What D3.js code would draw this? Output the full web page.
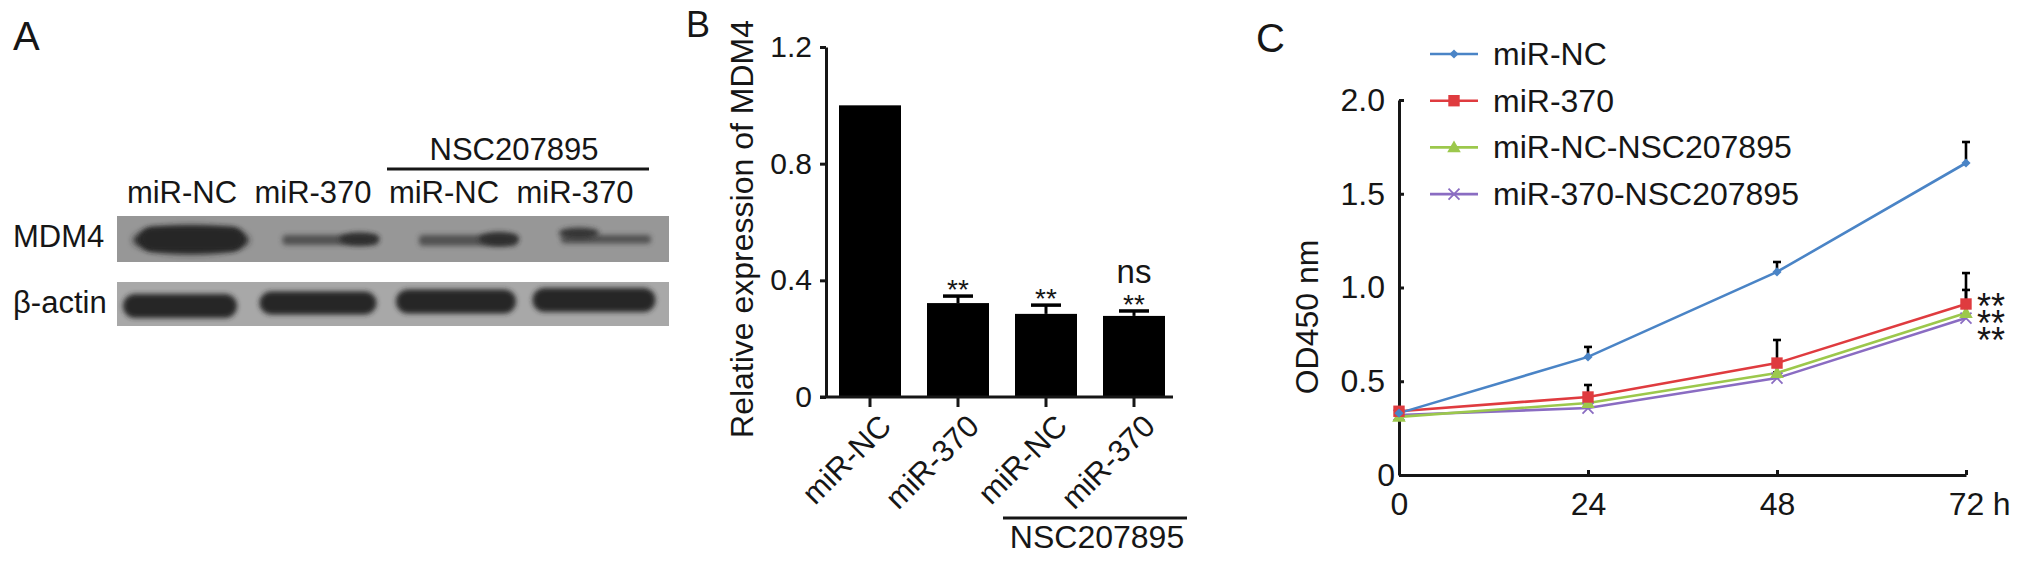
<!DOCTYPE html>
<html><head><meta charset="utf-8">
<script src="https://cdn.jsdelivr.net/npm/d3@7"></script>
<style>
body{margin:0;background:#fff}
svg{display:block}
text{font-family:"Liberation Sans",Arial,Helvetica,sans-serif;fill:#161616}
</style>
</head><body>
<svg id="c" width="2031" height="568"></svg>
<script>
// ---------------- DATA ----------------
// Panel A (western blot)
const laneLabels = ["miR-NC", "miR-370", "miR-NC", "miR-370"];
const blotRowLabels = ["MDM4", "β-actin"];
const mdm4Density = [1.0, 0.35, 0.38, 0.30];
const actinDensity = [1.0, 0.95, 1.0, 1.0];
const treatmentLabel = "NSC207895";

// Panel B (bar chart)
const barCategories = ["miR-NC", "miR-370", "miR-NC", "miR-370"];
const barValues = [1.0, 0.322, 0.285, 0.278];
const barErrors = [0, 0.024, 0.030, 0.017];
const barSig = ["", "**", "**", "**"];
const barSigVsCtrl = ["", "", "", "ns"];
const barYTicks = [0, 0.4, 0.8, 1.2];
const barYTickLabels = ["0", "0.4", "0.8", "1.2"];
const barYLabel = "Relative expression of MDM4";

// Panel C (growth curves)
const timePoints = [0, 24, 48, 72];
const timeTickLabels = ["0", "24", "48", "72"];
const timeUnit = "h";
const odTicks = [0, 0.5, 1.0, 1.5, 2.0];
const odTickLabels = ["0", "0.5", "1.0", "1.5", "2.0"];
const odYLabel = "OD450 nm";
const seriesNames = ["miR-NC", "miR-370", "miR-NC-NSC207895", "miR-370-NSC207895"];
const odNC = [0.33, 0.63, 1.083, 1.664];
const odNCErr = [0.01, 0.053, 0.053, 0.112];
const od370 = [0.34, 0.416, 0.597, 0.912];
const od370Err = [0.01, 0.064, 0.123, 0.165];
const odNCNSC = [0.31, 0.384, 0.544, 0.864];
const odNCNSCErr = [0.01, 0.03, 0.05, 0.123];
const od370NSC = [0.32, 0.357, 0.517, 0.837];
const od370NSCErr = [0.01, 0.02, 0.03, 0.08];
const lineSig = ["**", "**", "**"];

// ---------------- DRAW ----------------
const svg = d3.select("#c");
const INK = "#161616";
const defs = svg.append("defs");
defs.append("filter").attr("id", "blur")
  .attr("x", "-30%").attr("y", "-100%").attr("width", "160%").attr("height", "300%")
  .append("feGaussianBlur").attr("stdDeviation", 2.6);
defs.append("filter").attr("id", "blur2")
  .attr("x", "-30%").attr("y", "-100%").attr("width", "160%").attr("height", "300%")
  .append("feGaussianBlur").attr("stdDeviation", 3.2);

// ===== Panel A =====
const gA = svg.append("g");
gA.append("text").attr("x", 13).attr("y", 50).attr("font-size", 40).text("A");

const laneLabelX = d3.scalePoint().domain(d3.range(laneLabels.length)).range([182, 575]);
const laneX = d3.scalePoint().domain(d3.range(laneLabels.length)).range([180, 594]);

gA.selectAll("text.lane").data(laneLabels).join("text")
  .attr("class", "lane")
  .attr("x", (d, i) => laneLabelX(i)).attr("y", 203)
  .attr("text-anchor", "middle").attr("font-size", 31).text(d => d);

gA.append("line").attr("x1", 387).attr("x2", 649).attr("y1", 169).attr("y2", 169)
  .attr("stroke", INK).attr("stroke-width", 3);
gA.append("text").attr("x", 514).attr("y", 160).attr("text-anchor", "middle")
  .attr("font-size", 31).text(treatmentLabel);

// blot membranes
gA.append("rect").attr("x", 117).attr("y", 216).attr("width", 552).attr("height", 46).attr("fill", "#979797");
gA.append("rect").attr("x", 117).attr("y", 282).attr("width", 552).attr("height", 44).attr("fill", "#a8a8a8");
gA.append("text").attr("x", 13).attr("y", 247).attr("font-size", 31).text(blotRowLabels[0]);
gA.append("text").attr("x", 13).attr("y", 313).attr("font-size", 31).text(blotRowLabels[1]);

// MDM4 bands: strong lanes drawn as a blob, weak lanes as a thin streak with a denser end
const blobSide = [0, 1, 1, -1];
const gM = gA.append("g");
mdm4Density.forEach((d, i) => {
  const cx = laneX(i) + 12;
  const cy = 239;
  if (d > 0.8) {
    gM.append("ellipse").attr("cx", cx - 1).attr("cy", cy + 1).attr("rx", 58).attr("ry", 14 * d)
      .attr("fill", "#262626").attr("filter", "url(#blur2)");
    gM.append("rect").attr("x", cx - 52).attr("y", cy - 12).attr("width", 104).attr("height", 24).attr("rx", 12)
      .attr("fill", "#262626").attr("filter", "url(#blur)");
  } else {
    const w = 100 * (0.6 + d);
    gM.append("rect").attr("x", cx - w / 2).attr("y", cy - 4).attr("width", w).attr("height", 10 * d / 0.35).attr("rx", 4)
      .attr("fill", "#3a3a3a").attr("opacity", 0.75).attr("filter", "url(#blur)");
    const bx = cx + blobSide[i] * (w / 2 - 18);
    gM.append("ellipse").attr("cx", bx).attr("cy", cy - (blobSide[i] < 0 ? 6 : 0)).attr("rx", 20).attr("ry", 6.5 * d / 0.35)
      .attr("fill", "#2c2c2c").attr("opacity", 0.9).attr("filter", "url(#blur)");
  }
});

// beta-actin bands
const actinCY = [306, 303, 301.5, 300];
gA.selectAll("rect.actin").data(actinDensity).join("rect").attr("class", "actin")
  .attr("x", (d, i) => laneX(i) - 57 - i * 1.5)
  .attr("width", (d, i) => 114 + i * 3)
  .attr("y", (d, i) => actinCY[i] - 12 * d)
  .attr("height", d => 24 * d)
  .attr("rx", 12)
  .attr("fill", "#262626")
  .attr("filter", "url(#blur)");

// ===== Panel B =====
const gB = svg.append("g");
gB.append("text").attr("x", 686).attr("y", 37).attr("font-size", 36).text("B");

const xB = d3.scaleBand().domain(d3.range(barValues.length)).range([839, 1165])
  .paddingInner(0.2955).paddingOuter(0);
const yB = d3.scaleLinear().domain([0, 1.2]).range([397, 47]);

const yAxisB = gB.append("g").attr("transform", "translate(826,0)")
  .call(d3.axisLeft(yB).tickValues(barYTicks).tickFormat((d, i) => barYTickLabels[i])
    .tickSize(6).tickSizeOuter(0).tickPadding(8));
yAxisB.selectAll("path,line").attr("stroke", INK).attr("stroke-width", 3);
yAxisB.selectAll("text").attr("font-size", 30).attr("fill", INK)
  .style("font-family", '"Liberation Sans",Arial,sans-serif');

gB.selectAll("rect.bar").data(barValues).join("rect").attr("class", "bar")
  .attr("x", (d, i) => xB(i)).attr("width", xB.bandwidth())
  .attr("y", d => yB(d)).attr("height", d => yB(0) - yB(d))
  .attr("fill", "#000");

const xAxisB = gB.append("g").attr("transform", "translate(0,397)")
  .call(d3.axisBottom(xB).tickSize(10).tickSizeOuter(0).tickFormat(""));
xAxisB.select(".domain").attr("d", "M820,0H1173");
xAxisB.selectAll("path,line").attr("stroke", INK).attr("stroke-width", 3);

// error bars
barValues.forEach((v, i) => {
  const e = barErrors[i];
  if (!e) return;
  const cx = xB(i) + xB.bandwidth() / 2;
  gB.append("line").attr("x1", cx).attr("x2", cx).attr("y1", yB(v)).attr("y2", yB(v + e))
    .attr("stroke", "#000").attr("stroke-width", 3);
  gB.append("line").attr("x1", cx - 15).attr("x2", cx + 15).attr("y1", yB(v + e)).attr("y2", yB(v + e))
    .attr("stroke", "#000").attr("stroke-width", 3.5);
});
gB.selectAll("text.sig").data(barSig).join("text").attr("class", "sig")
  .attr("x", (d, i) => xB(i) + xB.bandwidth() / 2)
  .attr("y", (d, i) => yB(barValues[i] + barErrors[i]) + 3)
  .attr("text-anchor", "middle").attr("font-size", 28).text(d => d);
gB.selectAll("text.sig2").data(barSigVsCtrl).join("text").attr("class", "sig2")
  .attr("x", (d, i) => xB(i) + xB.bandwidth() / 2)
  .attr("y", (d, i) => yB(barValues[i] + barErrors[i]) - 28)
  .attr("text-anchor", "middle").attr("font-size", 33).text(d => d);

gB.selectAll("text.cat").data(barCategories).join("text").attr("class", "cat")
  .attr("transform", (d, i) => `translate(${xB(i) + xB.bandwidth() / 2 + 23},428) rotate(-45)`)
  .attr("text-anchor", "end").attr("font-size", 31).text(d => d);

gB.append("text").attr("transform", "translate(753,229) rotate(-90)")
  .attr("text-anchor", "middle").attr("font-size", 32).text(barYLabel);

const nscX0 = xB(2) - 12, nscX1 = 1187;
gB.append("line").attr("x1", nscX0).attr("x2", nscX1).attr("y1", 518).attr("y2", 518)
  .attr("stroke", INK).attr("stroke-width", 3);
gB.append("text").attr("x", (nscX0 + nscX1) / 2 + 2).attr("y", 548).attr("text-anchor", "middle")
  .attr("font-size", 32).text(treatmentLabel);

// ===== Panel C =====
const gC = svg.append("g");
gC.append("text").attr("x", 1256).attr("y", 52).attr("font-size", 40).text("C");

const xC = d3.scaleLinear().domain([0, 72]).range([1399, 1966]);
const yC = d3.scaleLinear().domain([0, 2]).range([475, 100]);

const yAxisC = gC.append("g").attr("transform", "translate(1399,0)")
  .call(d3.axisLeft(yC).tickValues(odTicks).tickFormat((d, i) => odTickLabels[i])
    .tickSize(-5).tickSizeOuter(0).tickPadding(14));
yAxisC.selectAll("path,line").attr("stroke", INK).attr("stroke-width", 3);
yAxisC.selectAll("text").attr("font-size", 32).attr("fill", INK)
  .style("font-family", '"Liberation Sans",Arial,sans-serif')
  .attr("x", d => d === 0 ? -4 : -14);

const xAxisC = gC.append("g").attr("transform", "translate(0,475)")
  .call(d3.axisBottom(xC).tickValues(timePoints).tickFormat((d, i) => timeTickLabels[i])
    .tickSize(-5).tickSizeOuter(0).tickPadding(17));
xAxisC.selectAll("path,line").attr("stroke", INK).attr("stroke-width", 3);
xAxisC.selectAll("text").attr("font-size", 32).attr("fill", INK)
  .style("font-family", '"Liberation Sans",Arial,sans-serif');
const lastTick = xAxisC.selectAll(".tick text").nodes().slice(-1)[0];
const lastW = lastTick.getComputedTextLength();
gC.append("text").attr("x", xC(72) + lastW / 2 + 9).attr("y", 475 + 17 + 0.71 * 32)
  .attr("font-size", 32).text(timeUnit);

gC.append("text").attr("transform", "translate(1318,317) rotate(-90)")
  .attr("text-anchor", "middle").attr("font-size", 32).text(odYLabel);

const series = [
  {name: seriesNames[0], vals: odNC, err: odNCErr, color: "#4a84c6", sym: "diamond"},
  {name: seriesNames[1], vals: od370, err: od370Err, color: "#df3b3f", sym: "square"},
  {name: seriesNames[2], vals: odNCNSC, err: odNCNSCErr, color: "#9cc84c", sym: "triangle"},
  {name: seriesNames[3], vals: od370NSC, err: od370NSCErr, color: "#8a6cc2", sym: "x"}
];

function marker(g, s, x, y) {
  if (s.sym === "diamond") {
    g.append("path").attr("d", d3.symbol(d3.symbolSquare, 42)())
      .attr("transform", `translate(${x},${y}) rotate(45)`).attr("fill", s.color);
  } else if (s.sym === "square") {
    g.append("path").attr("d", d3.symbol(d3.symbolSquare, 130)())
      .attr("transform", `translate(${x},${y})`).attr("fill", s.color);
  } else if (s.sym === "triangle") {
    g.append("path").attr("d", d3.symbol(d3.symbolTriangle, 80)())
      .attr("transform", `translate(${x},${y + 1})`).attr("fill", s.color);
  } else {
    g.append("path").attr("d", d3.symbol(d3.symbolTimes, 80)())
      .attr("transform", `translate(${x},${y})`).attr("fill", "none")
      .attr("stroke", s.color).attr("stroke-width", 1.8);
  }
}

// error bars (plus direction)
series.forEach(s => {
  s.vals.forEach((v, i) => {
    const x = xC(timePoints[i]);
    gC.append("line").attr("x1", x).attr("x2", x).attr("y1", yC(v)).attr("y2", yC(v + s.err[i]))
      .attr("stroke", "#000").attr("stroke-width", 2.6);
    gC.append("line").attr("x1", x - 4).attr("x2", x + 4).attr("y1", yC(v + s.err[i])).attr("y2", yC(v + s.err[i]))
      .attr("stroke", "#000").attr("stroke-width", 2.6);
  });
});
const lineGen = d3.line().x((d, i) => xC(timePoints[i])).y(d => yC(d));
series.slice().reverse().forEach(s => {
  gC.append("path").attr("d", lineGen(s.vals)).attr("fill", "none")
    .attr("stroke", s.color).attr("stroke-width", 2.6);
});
series.slice().reverse().forEach(s => {
  s.vals.forEach((v, i) => marker(gC, s, xC(timePoints[i]), yC(v)));
});

// significance stars at 72 h (one text block, three tightly stacked lines)
const sigText = gC.append("text").attr("x", 1977).attr("y", yC(od370[3]) + 15).attr("font-size", 36);
sigText.selectAll("tspan").data(lineSig).join("tspan")
  .attr("x", 1977).attr("dy", (d, i) => i === 0 ? 0 : 17).text(d => d);

// legend
series.forEach((s, i) => {
  const by = 65 + i * 46.7;
  const ly = by - 11;
  gC.append("line").attr("x1", 1430).attr("x2", 1478).attr("y1", ly).attr("y2", ly)
    .attr("stroke", s.color).attr("stroke-width", 2.6);
  marker(gC, s, 1454, ly);
  gC.append("text").attr("x", 1493).attr("y", by).attr("font-size", 32).text(s.name);
});
</script>
</body></html>
